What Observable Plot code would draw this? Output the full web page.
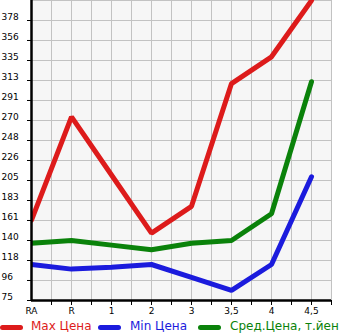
<!DOCTYPE html>
<html>
<head>
<meta charset="utf-8">
<script src="https://cdn.jsdelivr.net/npm/d3@7"></script>
<script src="https://cdn.jsdelivr.net/npm/@observablehq/plot@0.6"></script>
<style>
  body { margin: 0; background: #fff; overflow: hidden; width: 345px; height: 335px; }
  #legend { position: relative; height: 17px; font-family: "DejaVu Sans", sans-serif; font-size: 12px; white-space: nowrap; }
  .sw { position: absolute; top: 7px; width: 23px; height: 5px; border-radius: 3px; }
  .lb { position: absolute; top: 1px; }
</style>
</head>
<body>
<div id="chart"></div>
<div id="legend"></div>
<script>
const categories = ["RA", "R", "1", "2", "3", "3,5", "4", "4,5"];
const maxPrice = [162, 274, 211, 148, 177, 310, 339, 400];
const minPrice = [114, 109, 111, 114, 100, 86, 114, 209];
const avgPrice = [137, 140, 135, 130, 137, 140, 169, 312];
const yTicks = [75, 96.67, 118.33, 140, 161.67, 183.33, 205, 226.67, 248.33, 270, 291.67, 313.33, 335, 356.67, 378.33, 400];
const yTickLabels = ["75", "96", "118", "140", "161", "183", "205", "226", "248", "270", "291", "313", "335", "356", "378", ""];
const seriesNames = ["Max Цена", "Min Цена", "Сред.Цена, т.йен"];
const seriesColors = ["#dd1b1b", "#1b1bdd", "#0a820a"];

const idx = categories.map((_, i) => i);
const rows = (vals) => vals.map((v, i) => ({x: i, y: v}));
const gridXs = d3.range(0.5, 7.51, 0.5);
const labelTicks = yTicks.map((v, i) => ({v, t: yTickLabels[i]})).filter(d => d.t !== "");

const chart = Plot.plot({
  width: 345,
  height: 318,
  marginLeft: 31,
  marginRight: 14,
  marginTop: 0,
  marginBottom: 18,
  style: {fontFamily: "DejaVu Sans, sans-serif", fontSize: "9px", background: "#fff", overflow: "visible"},
  x: {type: "linear", domain: [0, 7.5], label: null},
  y: {type: "linear", domain: [75, 400], label: null},
  marks: [
    Plot.frame({fill: "#f6f6f6", stroke: null}),
    Plot.ruleX(gridXs, {stroke: "#c2c2c2", strokeWidth: 1}),
    Plot.ruleY(yTicks, {stroke: "#c2c2c2", strokeWidth: 1}),
    Plot.line(rows(avgPrice), {x: "x", y: "y", stroke: seriesColors[2], strokeWidth: 5, strokeLinejoin: "miter", strokeLinecap: "round", clip: true}),
    Plot.line(rows(minPrice), {x: "x", y: "y", stroke: seriesColors[1], strokeWidth: 5, strokeLinejoin: "miter", strokeLinecap: "round", clip: true}),
    Plot.line(rows(maxPrice), {x: "x", y: "y", stroke: seriesColors[0], strokeWidth: 5, strokeLinejoin: "miter", strokeLinecap: "round", clip: true}),
    Plot.ruleX([0], {stroke: "#000", strokeWidth: 2.5}),
    Plot.ruleY([75], {stroke: "#000", strokeWidth: 2.5}),
    Plot.axisY({ticks: yTicks.slice(0, -1), tickSize: 4, tickFormat: () => "", stroke: "#000", label: null}),
    Plot.text(labelTicks, {y: "v", text: "t", frameAnchor: "left", dx: -30, dy: -3, textAnchor: "start", fill: "#000", fontSize: 9}),
    Plot.axisX({ticks: gridXs, tickSize: 5, tickFormat: () => "", stroke: "#000", label: null}),
    Plot.axisX({ticks: idx, tickSize: 0, tickPadding: 7, tickFormat: i => categories[i], fill: "#000", fontSize: 9, label: null})
  ]
});
document.getElementById("chart").appendChild(chart);

const legend = document.getElementById("legend");
const pos = [[0, 31], [98, 130], [198, 230]];
seriesNames.forEach((name, i) => {
  const sw = document.createElement("div");
  sw.className = "sw";
  sw.style.left = pos[i][0] + "px";
  sw.style.background = seriesColors[i];
  legend.appendChild(sw);
  const lb = document.createElement("div");
  lb.className = "lb";
  lb.style.left = pos[i][1] + "px";
  lb.style.color = seriesColors[i];
  lb.textContent = name;
  legend.appendChild(lb);
});
</script>
</body>
</html>
